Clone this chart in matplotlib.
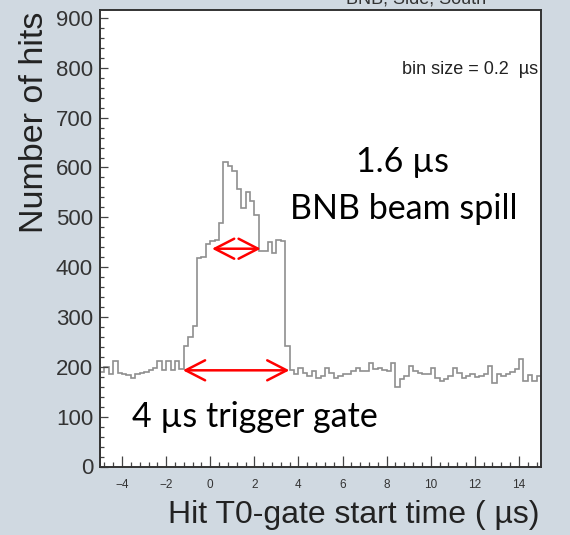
import numpy as np
import matplotlib
matplotlib.use('Agg')
import matplotlib.pyplot as plt
from matplotlib.ticker import MultipleLocator

# ---- data ----
x_min, x_max = -5.0, 15.0
bin_width = 0.2
y_min, y_max = 0, 916

# bins from -5.0 to -1.4
pre_gate_counts = [190, 200, 186, 211, 188, 186, 184, 178, 186, 188,
                   190, 194, 198, 212, 194, 211, 194, 211, 195]
# bins from -1.2 to 3.4
gate_counts = [241, 260, 282, 418, 420, 447, 452, 455, 488, 612,
               603, 592, 556, 519, 550, 532, 505, 433, 432, 450,
               428, 455, 452, 241]
# bins from 3.6 to 14.8
post_gate_counts = [193, 185, 198, 188, 182, 191, 178, 182, 197, 188,
                    178, 182, 185, 186, 191, 198, 191, 191, 208, 195,
                    197, 194, 191, 208, 160, 175, 182, 201, 191, 188,
                    185, 185, 197, 178, 171, 176, 181, 198, 187, 178,
                    181, 185, 180, 182, 186, 201, 168, 185, 182, 186,
                    190, 195, 215, 172, 183, 171, 182]

x_major = [-4, -2, 0, 2, 4, 6, 8, 10, 12, 14]
y_major = [0, 100, 200, 300, 400, 500, 600, 700, 800, 900]

spill_arrow_x = (0.08, 2.29)
spill_arrow_y = 437
gate_arrow_x = (-1.24, 3.59)
gate_arrow_y = 193

counts = np.array(pre_gate_counts + gate_counts + post_gate_counts, float)
edges = x_min + bin_width * np.arange(len(counts) + 1)

# ---- figure ----
W, H = 570, 535
fig = plt.figure(figsize=(W / 100, H / 100), dpi=100)
bg = '#d0d9e1'
fig.patch.set_facecolor(bg)

root_font = ['Liberation Sans', 'DejaVu Sans']
slide_font = ['Lato', 'DejaVu Sans']

left, right, top, bottom = 100, 541, 10, 466.5
ax = fig.add_axes([left / W, 1 - bottom / H, (right - left) / W, (bottom - top) / H])
ax.set_facecolor('white')

ax.stairs(counts, edges, color='#8f8f8f', lw=1.2)

ax.set_xlim(x_min, x_max)
ax.set_ylim(y_min, y_max)
ax.set_xticks(x_major)
ax.set_yticks(y_major)
ax.xaxis.set_minor_locator(MultipleLocator(0.4))
ax.yaxis.set_minor_locator(MultipleLocator(20))
ax.set_xticklabels([f'{v}'.replace('-', '\u2212') for v in x_major],
                   fontfamily=root_font, fontsize=8.5, color='#333333')
ax.set_yticklabels([str(v) for v in y_major],
                   fontfamily=root_font, fontsize=16, color='#333333')
ax.tick_params(axis='both', which='both', direction='in', top=False, right=False,
               color='#444444', width=0.9)
ax.tick_params(axis='x', which='major', length=8, pad=9)
ax.tick_params(axis='x', which='minor', length=3.8)
ax.tick_params(axis='y', which='major', length=6, pad=5)
ax.tick_params(axis='y', which='minor', length=3)
for s in ax.spines.values():
    s.set_color('#333333')
    s.set_linewidth(1.4)

# axis titles (ROOT style)
fig.text(540 / W, 1 - 515 / H, 'Hit T0-gate start time ( \u00b5s)',
         ha='right', va='center', fontsize=23, family=root_font, color='#222222')
fig.text(35 / W, 1 - 12 / H, 'Number of hits', rotation=90,
         ha='center', va='top', fontsize=24.5, family=root_font, color='#222222')

# cropped title at the top
fig.text(416 / W, 1 - 4 / H, 'BNB, Side, South', ha='center', va='baseline',
         fontsize=13, family=root_font, color='#333333')

# bin size label
fig.text(538 / W, 1 - 69 / H, 'bin size = 0.2  \u00b5s', ha='right', va='center',
         fontsize=13, family=root_font, color='#222222')

# red arrows
arrow_kw = dict(arrowstyle='<->,head_length=0.7,head_width=0.36', color='red',
                lw=1.8, shrinkA=0, shrinkB=0, mutation_scale=20)
ax.annotate('', xy=(spill_arrow_x[0], spill_arrow_y), xytext=(spill_arrow_x[1], spill_arrow_y),
            arrowprops=arrow_kw)
ax.annotate('', xy=(gate_arrow_x[0], gate_arrow_y), xytext=(gate_arrow_x[1], gate_arrow_y),
            arrowprops=arrow_kw)

# slide annotations
ax.text(8.73, 612, '1.6 \u00b5s', ha='center', va='center', fontsize=24.5,
        family=slide_font, color='black')
ax.text(8.78, 516, 'BNB beam spill', ha='center', va='center', fontsize=24.5,
        family=slide_font, color='black')
ax.text(2.04, 100, '4 \u00b5s trigger gate', ha='center', va='center', fontsize=24.5,
        family=slide_font, color='black')

fig.savefig('out.png', dpi=100, facecolor=fig.get_facecolor())
